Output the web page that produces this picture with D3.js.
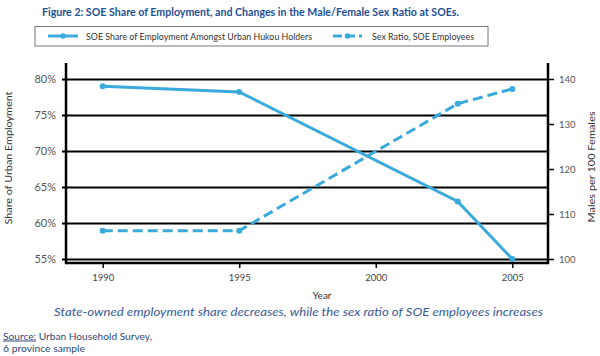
<!DOCTYPE html>
<html>
<head>
<meta charset="utf-8">
<script src="https://cdn.jsdelivr.net/npm/d3@7"></script>
<style>
  html, body { margin: 0; padding: 0; background: #fff; }
  svg { display: block; font-family: Lato, "Open Sans", sans-serif; }
</style>
</head>
<body>
<svg id="chart" width="600" height="356"></svg>
<script>
// ---- data ----
const years = [1990, 1995, 2003, 2005];
const soeShare = [79, 78.2, 63, 55];          // % share of urban employment
const sexRatio = [106.3, 106.3, 134.5, 137.8]; // males per 100 females
const xTicks = [1990, 1995, 2000, 2005];
const leftTicks = [55, 60, 65, 70, 75, 80];
const rightTicks = [100, 110, 120, 130, 140];
const seriesNames = ["SOE Share of Employment Amongst Urban Hukou Holders", "Sex Ratio, SOE Employees"];

const svg = d3.select("#chart");
const blue = "#3aa9dc";

const L = 66, R = 548, T = 63, B = 263;
const x = d3.scaleLinear().domain([1990, 2005]).range([102.7, 512.3]);
const yL = d3.scaleLinear().domain([55, 80]).range([259, 79]);
const yR = d3.scaleLinear().domain([100, 140]).range([259, 79]);

// Title
svg.append("text").attr("x", 42).attr("y", 15.5)
  .attr("font-size", 12).attr("font-weight", "bold").attr("fill", "#1e4f98")
  .attr("textLength", 417).attr("lengthAdjust", "spacingAndGlyphs")
  .text("Figure 2: SOE Share of Employment, and Changes in the Male/Female Sex Ratio at SOEs.");

// Legend
const lg = svg.append("g");
lg.append("rect").attr("x", 35).attr("y", 26.5).attr("width", 453).attr("height", 19.5)
  .attr("fill", "#fff").attr("stroke", "#777").attr("stroke-width", 1);
lg.append("line").attr("x1", 48).attr("x2", 78).attr("y1", 36).attr("y2", 36)
  .attr("stroke", blue).attr("stroke-width", 3);
lg.append("circle").attr("cx", 63).attr("cy", 36).attr("r", 2.8).attr("fill", blue);
lg.append("text").attr("x", 86).attr("y", 39.5).attr("font-size", 10).attr("fill", "#333")
  .attr("textLength", 226).attr("lengthAdjust", "spacingAndGlyphs").text(seriesNames[0]);
lg.append("line").attr("x1", 333).attr("x2", 362).attr("y1", 36).attr("y2", 36)
  .attr("stroke", blue).attr("stroke-width", 3).attr("stroke-dasharray", "9,4");
lg.append("circle").attr("cx", 347.5).attr("cy", 36).attr("r", 2.8).attr("fill", blue);
lg.append("text").attr("x", 372).attr("y", 39.5).attr("font-size", 10).attr("fill", "#333")
  .attr("textLength", 102).attr("lengthAdjust", "spacingAndGlyphs").text(seriesNames[1]);

// Left axis with gridlines
const gl = svg.append("g").attr("transform", `translate(${L},0)`)
  .call(d3.axisLeft(yL).tickValues(leftTicks).tickFormat(d => d + "%")
    .tickSize(4).tickSizeOuter(0).tickPadding(6));
gl.select(".domain").remove();
gl.selectAll(".tick line").attr("x1", -4).attr("x2", R - L).attr("stroke", "#000").attr("stroke-width", 2);
gl.selectAll(".tick text").attr("font-size", 11).attr("fill", "#555").attr("font-family", "Lato, sans-serif");

// Right axis
const gr = svg.append("g").attr("transform", `translate(${R},0)`)
  .call(d3.axisRight(yR).tickValues(rightTicks).tickSize(6).tickSizeOuter(0).tickPadding(5));
gr.select(".domain").remove();
gr.selectAll(".tick line").attr("stroke", "#000").attr("stroke-width", 1.5);
gr.selectAll(".tick text").attr("font-size", 9.5).attr("fill", "#555").attr("font-family", "Lato, sans-serif");

// Bottom axis
const gb = svg.append("g").attr("transform", `translate(0,${B})`)
  .call(d3.axisBottom(x).tickValues(xTicks).tickFormat(d3.format("d"))
    .tickSize(5).tickSizeOuter(0).tickPadding(6));
gb.select(".domain").remove();
gb.selectAll(".tick line").attr("stroke", "#000").attr("stroke-width", 1.5);
gb.selectAll(".tick text").attr("font-size", 9.5).attr("fill", "#444").attr("font-family", "Lato, sans-serif");

// Frame lines (left, right, bottom)
const frame = svg.append("g").attr("stroke", "#000").attr("stroke-width", 2.5).attr("fill", "none");
frame.append("line").attr("x1", L).attr("x2", L).attr("y1", T).attr("y2", B + 1.2);
frame.append("line").attr("x1", R).attr("x2", R).attr("y1", T).attr("y2", B + 1.2);
frame.append("line").attr("x1", L).attr("x2", R).attr("y1", B).attr("y2", B);

// Series
const data1 = years.map((yr, i) => ({ yr, v: soeShare[i] }));
const data2 = years.map((yr, i) => ({ yr, v: sexRatio[i] }));

svg.append("path").datum(data2)
  .attr("fill", "none").attr("stroke", blue).attr("stroke-width", 3)
  .attr("stroke-dasharray", "10,5")
  .attr("d", d3.line().x(d => x(d.yr)).y(d => yR(d.v)));
svg.append("g").selectAll("circle").data(data2).join("circle")
  .attr("cx", d => x(d.yr)).attr("cy", d => yR(d.v)).attr("r", 3).attr("fill", blue);

svg.append("path").datum(data1)
  .attr("fill", "none").attr("stroke", blue).attr("stroke-width", 3)
  .attr("d", d3.line().x(d => x(d.yr)).y(d => yL(d.v)));
svg.append("g").selectAll("circle").data(data1).join("circle")
  .attr("cx", d => x(d.yr)).attr("cy", d => yL(d.v)).attr("r", 3).attr("fill", blue);

// Axis titles
svg.append("text").attr("x", 322).attr("y", 299).attr("text-anchor", "middle")
  .attr("font-size", 10).attr("fill", "#333").text("Year");
svg.append("text").attr("transform", "translate(12,158) rotate(-90)").attr("text-anchor", "middle")
  .attr("font-size", 10).attr("fill", "#333")
  .attr("textLength", 133).attr("lengthAdjust", "spacingAndGlyphs").text("Share of Urban Employment");
svg.append("text").attr("transform", "translate(595,167) rotate(-90)").attr("text-anchor", "middle")
  .attr("font-size", 10).attr("fill", "#333")
  .attr("textLength", 111).attr("lengthAdjust", "spacingAndGlyphs").text("Males per 100 Females");

// Caption
svg.append("text").attr("x", 54).attr("y", 316)
  .attr("font-size", 12).attr("font-style", "italic").attr("fill", "#3a5a98")
  .attr("textLength", 489).attr("lengthAdjust", "spacingAndGlyphs")
  .text("State-owned employment share decreases, while the sex ratio of SOE employees increases");

// Source
const src = svg.append("text").attr("x", 3).attr("y", 339.5)
  .attr("font-size", 10).attr("fill", "#2e4a7a")
  .attr("textLength", 149).attr("lengthAdjust", "spacingAndGlyphs");
src.append("tspan").attr("text-decoration", "underline").text("Source:");
src.append("tspan").text(" Urban Household Survey,");
svg.append("text").attr("x", 3).attr("y", 351.5)
  .attr("font-size", 10).attr("fill", "#2e4a7a")
  .attr("textLength", 82).attr("lengthAdjust", "spacingAndGlyphs")
  .text("6 province sample");
</script>
</body>
</html>
